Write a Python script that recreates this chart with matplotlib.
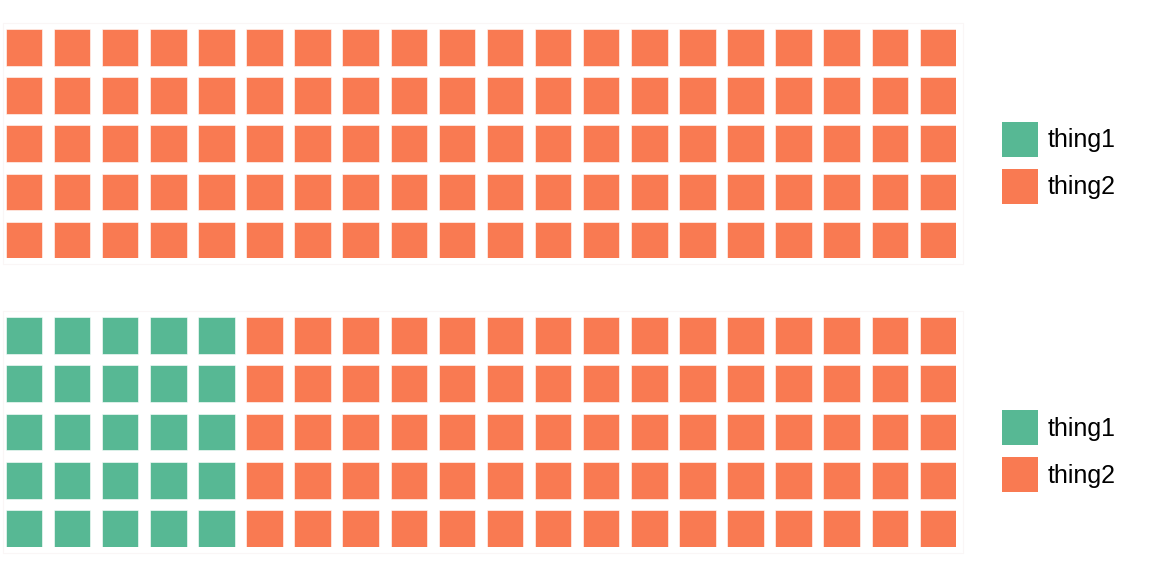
import matplotlib
matplotlib.use('Agg')
import matplotlib.pyplot as plt
from matplotlib.patches import Rectangle, Patch

plt.rcParams['font.family'] = ['Liberation Sans', 'DejaVu Sans']

# ----------------------------------------------
# data: counts per category for each waffle panel

categories = ['thing1', 'thing2']
colors = ['#57B894', '#F97A52']
panel_top = [0, 100]
panel_bottom = [25, 75]

nrows = 5
ncols = 20
size = 0.76

# ----------------------------------------------

def waffle(ax, counts):
    # fill column by column, top row first
    cells = []
    for cat, n in enumerate(counts):
        cells += [cat] * n
    for k, cat in enumerate(cells):
        col = k // nrows
        row = k % nrows
        ax.add_patch(Rectangle((col, nrows - 1 - row), size, size,
                               facecolor=colors[cat], edgecolor='white',
                               linewidth=0.4))
    ax.set_xlim(0, ncols - 1 + size)
    ax.set_ylim(0, nrows - 1 + size)
    ax.set_axis_off()


fig = plt.figure(figsize=(11.52, 5.76), dpi=100)

W, H = 1152., 576.
x0 = 5.7
w = (ncols - 1 + size) * 48.1
h = (nrows - 1 + size) * 48.2

handles = [Patch(facecolor=c, edgecolor='none') for c in colors]

for top_px, counts in [(29.0, panel_top), (317.3, panel_bottom)]:
    ax = fig.add_axes([x0 / W, 1 - (top_px + h) / H, w / W, h / H])
    waffle(ax, counts)
    # faint panel frame
    fig.add_artist(Rectangle(((x0 - 3) / W, 1 - (top_px + h + 6) / H),
                             (w + 10) / W, (h + 12) / H,
                             transform=fig.transFigure, fill=False,
                             edgecolor='#FAF6F6', linewidth=0.8))
    cy = top_px + h / 2 + 19
    fig.legend(handles, categories, loc='center left',
               bbox_to_anchor=(1002 / W, 1 - cy / H),
               frameon=False, fontsize=18, borderpad=0, borderaxespad=0,
               handlelength=1.44, handleheight=1.78, handletextpad=0.4,
               labelspacing=0.48)

plt.savefig('out.png', dpi=100)
